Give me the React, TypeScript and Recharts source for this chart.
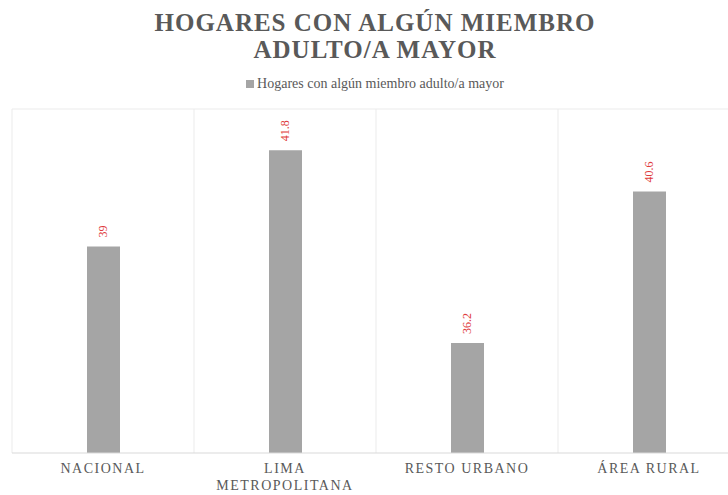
import { Bar, BarChart, CartesianGrid, LabelList, XAxis, YAxis } from "recharts"

const categories = ["NACIONAL", "LIMA METROPOLITANA", "RESTO URBANO", "ÁREA RURAL"]
const tickLines = [["NACIONAL"], ["LIMA", "METROPOLITANA"], ["RESTO URBANO"], ["ÁREA RURAL"]]
const values = [39, 41.8, 36.2, 40.6]
const seriesName = "Hogares con algún miembro adulto/a mayor"
const titleLines = ["HOGARES CON ALGÚN MIEMBRO", "ADULTO/A MAYOR"]

const data = categories.map((c, i) => ({ name: c, value: values[i] }))

const FONT = "'Liberation Serif', 'Times New Roman', serif"
const TEXT = "#595959"
const BAR = "#a5a5a5"
const LABEL_RED = "#e03c3c"
const W = 750
const H = 495

function CategoryTick({ x, y, payload }: any) {
  const idx = categories.indexOf(payload.value)
  const lines = tickLines[idx] ?? [payload.value]
  return (
    <g>
      {lines.map((ln, i) => (
        <text
          key={ln}
          x={x}
          y={y + 12 + i * 17}
          textAnchor="middle"
          fill={TEXT}
          fontFamily={FONT}
          fontSize={14}
          letterSpacing={1.5}
        >
          {ln}
        </text>
      ))}
    </g>
  )
}

function RotatedLabel({ x, y, width, value }: any) {
  const cx = x + width / 2
  const by = y - 9
  return (
    <text
      x={cx}
      y={by}
      transform={`rotate(-90, ${cx}, ${by})`}
      textAnchor="start"
      dominantBaseline="central"
      fill={LABEL_RED}
      fontFamily={FONT}
      fontSize={12}
    >
      {value}
    </text>
  )
}

export default function App() {
  return (
    <div
      style={{
        position: "absolute",
        left: 0,
        top: 0,
        width: 728,
        height: H,
        overflow: "hidden",
        background: "#fff",
      }}
    >
      <div
        style={{
          position: "absolute",
          left: 0,
          top: 9,
          width: W,
          textAlign: "center",
          fontFamily: FONT,
          fontWeight: "bold",
          fontSize: 25,
          lineHeight: "27px",
          letterSpacing: 1,
          color: TEXT,
        }}
      >
        {titleLines.map((t) => (
          <div key={t}>{t}</div>
        ))}
      </div>
      <div
        style={{
          position: "absolute",
          left: 0,
          top: 76,
          width: W,
          display: "flex",
          justifyContent: "center",
          alignItems: "center",
          fontFamily: FONT,
          fontSize: 14,
          color: TEXT,
        }}
      >
        <span style={{ width: 8, height: 8, background: BAR, marginRight: 3, display: "inline-block" }} />
        <span>{seriesName}</span>
      </div>
      <div style={{ position: "absolute", left: 0, top: 0 }}>
        <BarChart width={W} height={H} data={data} margin={{ top: 109, right: 10, left: 12, bottom: 0 }}>
          <CartesianGrid
            stroke="#ebebeb"
            verticalCoordinatesGenerator={({ offset }: any) =>
              [0, 1, 2, 3, 4].map((i) => offset.left + (offset.width * i) / 4)
            }
            horizontalCoordinatesGenerator={({ offset }: any) => [offset.top]}
          />
          <XAxis
            dataKey="name"
            height={42}
            tickLine={false}
            axisLine={{ stroke: "#d9d9d9" }}
            interval={0}
            tick={<CategoryTick />}
          />
          <YAxis hide domain={[33, 43]} />
          <Bar dataKey="value" name={seriesName} fill={BAR} barSize={33} isAnimationActive={false}>
            <LabelList dataKey="value" content={<RotatedLabel />} />
          </Bar>
        </BarChart>
      </div>
    </div>
  )
}
